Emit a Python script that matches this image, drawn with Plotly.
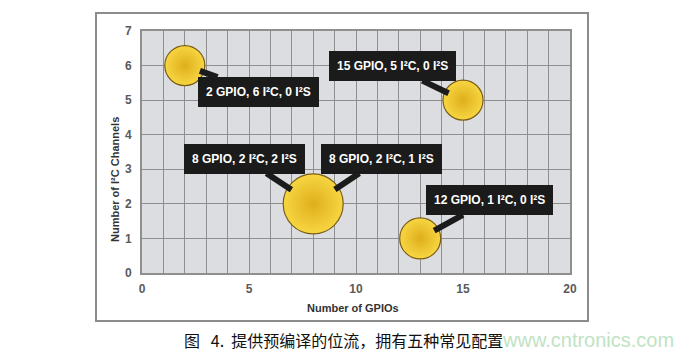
import plotly.graph_objects as go

# ---- data ----
gpio = [2, 15, 8, 13]
i2c_channels = [6, 5, 2, 1]
bubble_size = [40, 40, 60, 41]

label_x = [2, 15, 8, 8, 13]
label_y = [6, 5, 2, 2, 1]
label_text = [
    "2 GPIO, 6 I²C, 0 I²S",
    "15 GPIO, 5 I²C, 0 I²S",
    "8 GPIO, 2 I²C, 2 I²S",
    "8 GPIO, 2 I²C, 1 I²S",
    "12 GPIO, 1 I²C, 0 I²S",
]
label_ax = [74, -71, -69, 68, 69]
label_ay = [26, -34, -45, -45, -38]
label_standoff = [16, 16, 26, 26, 16]

x_ticks = [0, 5, 10, 15, 20]
y_ticks = [0, 1, 2, 3, 4, 5, 6, 7]

x_title = "Number of GPIOs"
y_title = "Number of I²C Channels"
caption = "图   4.  提供预编译的位流，拥有五种常见配置"
watermark = "www.cntronics.com"

# ---- layout geometry (pixels) ----
W, H = 681, 355
L, R, T, B = 142, 111, 31, 82
pw, ph = W - L - R, H - T - B


def px_to_paper(px, py):
    return (px - L) / pw, (H - B - py) / ph


# ---- figure ----
fig = go.Figure()
fig.add_trace(go.Scatter(
    x=gpio, y=i2c_channels, mode="markers",
    marker=dict(size=bubble_size, color="#f7d642",
                gradient=dict(type="radial", color="#dfae1c"),
                line=dict(color="#7a5e16", width=1.2), opacity=1),
    hoverinfo="skip", showlegend=False,
))

label_font = dict(family="Liberation Sans Narrow, Liberation Sans, Arial", size=12, color="#ffffff")
annotations = []
for x, y, t, ax, ay, so in zip(label_x, label_y, label_text, label_ax, label_ay, label_standoff):
    annotations.append(dict(
        x=x, y=y, xref="x", yref="y", text="<b>" + t + "</b>",
        showarrow=True, ax=ax, ay=ay, axref="pixel", ayref="pixel",
        arrowhead=0, arrowwidth=6, arrowcolor="#1b1b1b", standoff=so,
        bgcolor="#1b1b1b", bordercolor="#1b1b1b", borderwidth=1, borderpad=7,
        font=label_font,
    ))

title_font = dict(family="Liberation Sans Narrow, Liberation Sans, Arial", size=11, color="#333333")
tx, ty = px_to_paper(353, 308)
annotations.append(dict(x=tx, y=ty, xref="paper", yref="paper", text="<b>" + x_title + "</b>",
                        showarrow=False, font=title_font, xanchor="center", yanchor="middle"))
yx, yy = px_to_paper(115, 180)
annotations.append(dict(x=yx, y=yy, xref="paper", yref="paper", text="<b>" + y_title + "</b>",
                        showarrow=False, textangle=-90, font=title_font,
                        xanchor="center", yanchor="middle"))
cx, cy = px_to_paper(182, 340)
annotations.append(dict(x=cx, y=cy, xref="paper", yref="paper", text=caption, showarrow=False,
                        xanchor="left", yanchor="middle",
                        font=dict(family="Noto Sans CJK SC", size=16, color="#111111")))
wx, wy = px_to_paper(500, 340)
annotations.append(dict(x=wx, y=wy, xref="paper", yref="paper", text=watermark, showarrow=False,
                        xanchor="left", yanchor="middle",
                        font=dict(family="Liberation Sans, Arial", size=20, color="#bfe3c4")))
fig.update_layout(annotations=annotations)

bx0, by0 = px_to_paper(96, 13)
bx1, by1 = px_to_paper(588, 321)
fig.add_shape(type="rect", xref="paper", yref="paper", x0=bx0, y0=by1, x1=bx1, y1=by0,
              line=dict(color="#8c8c8c", width=2), fillcolor="rgba(0,0,0,0)", layer="below")

tickfont = dict(family="Liberation Sans Narrow, Liberation Sans, Arial", size=12, color="#5a5a5a")
fig.update_xaxes(range=[0, 20], tickvals=x_ticks, ticktext=[f"<b>{v}</b>" for v in x_ticks],
                 showgrid=True, gridcolor="#8f8f8f", gridwidth=1.3,
                 minor=dict(dtick=1, showgrid=True, gridcolor="#8f8f8f", gridwidth=1.3),
                 showline=True, linecolor="#8f8f8f", linewidth=2, mirror=True,
                 zeroline=False, ticks="", tickfont=tickfont, ticklabelstandoff=4,
                 fixedrange=True)
fig.update_yaxes(range=[0, 7], tickvals=y_ticks, ticktext=[f"<b>{v}</b>" for v in y_ticks],
                 showgrid=True, gridcolor="#8f8f8f", gridwidth=1.3,
                 showline=True, linecolor="#8f8f8f", linewidth=2, mirror=True,
                 zeroline=False, ticks="", tickfont=tickfont, ticklabelstandoff=6,
                 fixedrange=True)

fig.update_layout(
    width=W, height=H, margin=dict(l=L, r=R, t=T, b=B, pad=0),
    plot_bgcolor="#dcdde0", paper_bgcolor="#ffffff",
    showlegend=False,
)

fig.write_html("out.html", config={"displayModeBar": False},
               post_script="document.body.style.margin='0';document.body.style.overflow='hidden';")
